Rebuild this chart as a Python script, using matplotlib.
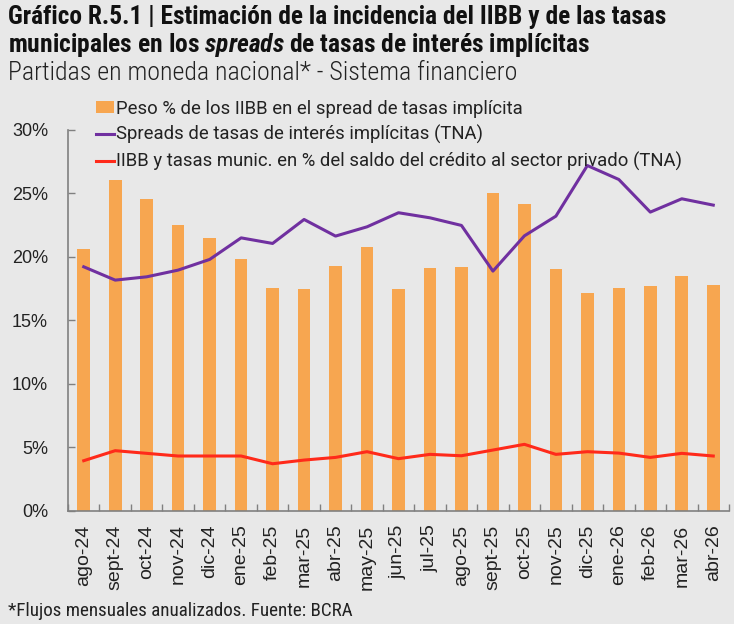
import matplotlib
matplotlib.use("Agg")
import matplotlib.pyplot as plt
import numpy as np
from matplotlib.patches import Patch
from matplotlib.lines import Line2D
from matplotlib.ticker import FixedLocator, FuncFormatter

categories = ["ago-24", "sept-24", "oct-24", "nov-24", "dic-24", "ene-25", "feb-25",
              "mar-25", "abr-25", "may-25", "jun-25", "jul-25", "ago-25", "sept-25",
              "oct-25", "nov-25", "dic-25", "ene-26", "feb-26", "mar-26", "abr-26"]
peso_iibb = [20.6, 26.05, 24.6, 22.55, 21.5, 19.85, 17.57, 17.5, 19.3, 20.8, 17.44,
             19.14, 19.22, 25.05, 24.13, 19.01, 17.12, 17.54, 17.67, 18.49, 17.75]
spreads = [19.22, 18.17, 18.43, 18.96, 19.8, 21.5, 21.06, 22.95, 21.64, 22.37, 23.48,
           23.08, 22.48, 18.88, 21.66, 23.21, 27.2, 26.1, 23.53, 24.58, 24.08]
iibb_tasas = [3.94, 4.73, 4.52, 4.31, 4.31, 4.31, 3.70, 3.99, 4.2, 4.65, 4.1,
              4.44, 4.33, 4.78, 5.23, 4.44, 4.65, 4.54, 4.2, 4.52, 4.31]
legend_labels = ["Peso % de los IIBB en el spread de tasas implícita",
                 "Spreads de tasas de interés implícitas (TNA)",
                 "IIBB y tasas munic. en % del saldo del crédito al sector privado (TNA)"]

BG = "#e8e8e8"
ORANGE = "#f7a650"
PURPLE = "#7030a0"
RED = "#ff2a1a"
COND = ["Roboto Condensed", "Liberation Sans Narrow", "Roboto", "DejaVu Sans"]
REG = ["Roboto", "DejaVu Sans"]
ARIAL = ["Liberation Sans", "DejaVu Sans"]

plt.rcParams["mathtext.fontset"] = "custom"
plt.rcParams["mathtext.it"] = "Roboto Condensed:italic:bold"
plt.rcParams["mathtext.rm"] = "Roboto Condensed:bold"
plt.rcParams["mathtext.bf"] = "Roboto Condensed:bold"

W, H = 734, 624
fig = plt.figure(figsize=(W / 100, H / 100), dpi=100, facecolor=BG)
ax = fig.add_axes([68 / W, (H - 510.7) / H, (729 - 68) / W, (510.7 - 130) / H])
ax.set_facecolor(BG)

x = np.arange(len(categories))
ax.bar(x, peso_iibb, width=0.4, color=ORANGE, zorder=2)
ax.plot(x, spreads, color=PURPLE, lw=2.2, zorder=3)
ax.plot(x, iibb_tasas, color=RED, lw=2.2, zorder=3)

ax.set_xlim(-0.5, len(categories) - 0.5)
ax.set_ylim(0, 30)
ax.set_yticks(np.arange(0, 31, 5))
ax.yaxis.set_major_formatter(FuncFormatter(lambda v, p: f"{v:.0f}%"))
ax.set_xticks(x)
ax.set_xticklabels(categories, rotation=90, fontfamily=ARIAL, fontsize=14, color="#222222")
ax.xaxis.set_minor_locator(FixedLocator(np.arange(-0.5, len(categories), 1.0)))
ax.tick_params(axis="x", which="major", length=0, pad=10)
ax.tick_params(axis="x", which="minor", direction="in", length=5, color="#808080", width=1)
ax.tick_params(axis="y", direction="in", length=5, color="#808080", width=1, pad=14.4,
               labelsize=13, labelcolor="#222222")
for lbl in ax.get_yticklabels():
    lbl.set_fontfamily(ARIAL)
for s in ["top", "right"]:
    ax.spines[s].set_visible(False)
for s in ["left", "bottom"]:
    ax.spines[s].set_color("#808080")
    ax.spines[s].set_linewidth(1.2)

handles = [Patch(facecolor=ORANGE, edgecolor="none"),
           Line2D([0], [0], color=PURPLE, lw=2.2),
           Line2D([0], [0], color=RED, lw=2.2)]
leg = fig.legend(handles, legend_labels, loc="upper left",
                 bbox_to_anchor=(96 / W, 1 - 99.5 / H), frameon=False,
                 prop={"family": REG, "size": 13.3}, handlelength=1.0, handleheight=0.6,
                 handletextpad=0.1, labelspacing=0.42, borderaxespad=0, borderpad=0)
for t in leg.get_texts():
    t.set_color("#222222")

fig.text(8 / W, 1 - 17 / H, "Gráfico R.5.1 | Estimación de la incidencia del IIBB y de las tasas",
         family=COND, weight="bold", fontsize=18.3, va="center", ha="left", color="#111111")
fig.text(8 / W, 1 - 45 / H,
         "municipales en los $\\it{spreads}$ de tasas de interés implícitas",
         family=COND, weight="bold", fontsize=18.4, va="center", ha="left", color="#111111")
fig.text(8 / W, 1 - 73 / H, "Partidas en moneda nacional* - Sistema financiero",
         family=COND, weight="light", fontsize=18.6, va="center", ha="left", color="#222222")
fig.text(8 / W, 1 - 611 / H, "*Flujos mensuales anualizados. Fuente: BCRA",
         family=COND, fontsize=13.7, va="center", ha="left", color="#222222")

fig.savefig("out.png", dpi=100, facecolor=BG)
